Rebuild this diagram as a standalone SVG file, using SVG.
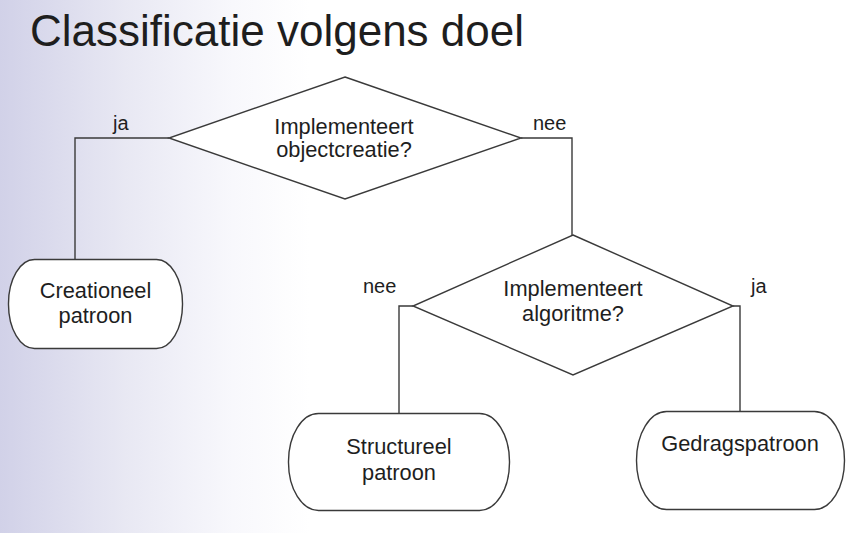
<svg xmlns="http://www.w3.org/2000/svg" width="853" height="533" viewBox="0 0 853 533">
<defs>
<linearGradient id="bg" x1="0" y1="0" x2="310" y2="0" gradientUnits="userSpaceOnUse">
<stop offset="0" stop-color="#d1d1e8"/>
<stop offset="0.4" stop-color="#e8e8f3"/>
<stop offset="0.75" stop-color="#f8f8fc"/>
<stop offset="1" stop-color="#ffffff"/>
</linearGradient>
<style>
.t{font-family:"Liberation Sans",Arial,sans-serif;fill:#1e1e1e}
.n{font-size:21.8px;text-anchor:middle}
.l{font-size:20px}
.s{fill:#ffffff;stroke:#3a3a3a;stroke-width:1.4}
.c{fill:none;stroke:#3a3a3a;stroke-width:1.4}
</style>
</defs>
<rect x="0" y="0" width="853" height="533" fill="url(#bg)"/>
<text class="t" x="30" y="46" font-size="44">Classificatie volgens doel</text>
<g id="connectors">
<polyline class="c" points="169,138 75,138 75,259"/>
<polyline class="c" points="521,138 572,138 572,235"/>
<polyline class="c" points="413,306 399,306 399,413"/>
<polyline class="c" points="733,306 740,306 740,411"/>
<text class="t l" x="113" y="130">ja</text>
<text class="t l" x="533" y="130">nee</text>
<text class="t l" x="363" y="293">nee</text>
<text class="t l" x="751" y="293">ja</text>
</g>
<g id="q1">
<polygon class="s" points="345,77 521,138 345,199 169,138"/>
<text class="t n" x="344" y="134">Implementeert</text>
<text class="t n" x="344" y="157">objectcreatie?</text>
</g>
<g id="q2">
<polygon class="s" points="573,235 733,306 573,375 413,306"/>
<text class="t n" x="573" y="296">Implementeert</text>
<text class="t n" x="573" y="321">algoritme?</text>
</g>
<g id="creationeel">
<rect class="s" x="8.5" y="259.5" width="174" height="89" rx="26" ry="44"/>
<text class="t n" x="95.5" y="298">Creationeel</text>
<text class="t n" x="95.5" y="323">patroon</text>
</g>
<g id="structureel">
<rect class="s" x="288.5" y="413.5" width="221" height="97" rx="30" ry="48"/>
<text class="t n" x="399" y="454">Structureel</text>
<text class="t n" x="399" y="480">patroon</text>
</g>
<g id="gedrag">
<rect class="s" x="636.5" y="411.5" width="208" height="98" rx="30" ry="49"/>
<text class="t n" x="740" y="451">Gedragspatroon</text>
</g>
</svg>
